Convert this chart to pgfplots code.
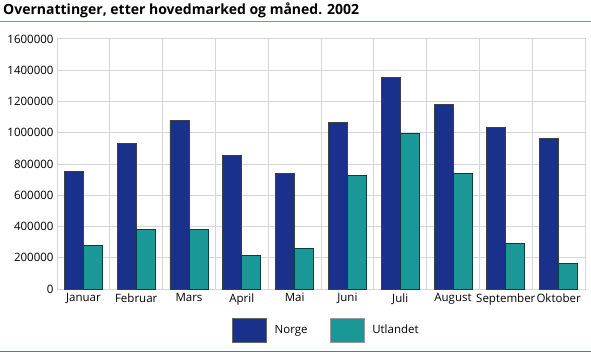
\documentclass[border=0pt]{standalone}
\usepackage{pgfplots}
\pgfplotsset{compat=1.18}
\usepackage{fontspec}
\setmainfont{Open Sans}
\definecolor{norge}{HTML}{1A318C}
\definecolor{utl}{HTML}{1A9898}
\definecolor{gridc}{HTML}{D6D6D6}
\definecolor{rulec}{HTML}{4DA6AE}
\begin{document}
\begin{tikzpicture}[x=1bp,y=1bp]
\useasboundingbox (0,0) rectangle (591,353);
\node[anchor=base west, font=\fontsize{14bp}{16bp}\selectfont\bfseries, inner sep=0pt] at (3,339) {Overnattinger, etter hovedmarked og måned. 2002};
\draw[rulec, line width=1.2bp] (0,331.5) -- (591,331.5);
\draw[utl, line width=1.5bp] (0,1.5) -- (591,1.5);
\begin{axis}[
  at={(57bp,64bp)}, anchor=south west,
  scale only axis, width=528bp, height=250bp,
  xmin=-0.5, xmax=9.5, ymin=0, ymax=1600000,
  ybar=0pt, bar width=0.36,
  xtick={0,...,9},
  xticklabels={Januar,Februar,Mars,April,Mai,Juni,Juli,August,September,Oktober},
  minor xtick={0.5,1.5,...,8.5},
  ytick={0,200000,...,1600000},
  ymajorgrids, xminorgrids,
  major grid style={draw=gridc, line width=1bp},
  minor grid style={draw=gridc, line width=1bp},
  axis line style={draw=gridc, line width=1bp},
  major tick length=0pt, minor tick length=0pt,
  scaled y ticks=false,
  yticklabel style={/pgf/number format/.cd, fixed, 1000 sep={}, assume math mode=true},
  ticklabel style={font=\fontsize{11.5bp}{13bp}\selectfont, text=black},
  xticklabel style={yshift=-1bp},
  axis on top=false,
  legend style={draw=none, fill=none, at={(0.331,-0.164)}, anchor=west, inner sep=0pt,
    legend columns=2, font=\fontsize{11.5bp}{13bp}\selectfont,
    /tikz/every even column/.append style={column sep=20bp}},
  legend cell align=left,
]
\addplot[fill=norge, draw=black!75, line width=0.7bp, bar shift=-0.18,
  legend image code/.code={\draw[fill=norge, draw=black!60, line width=0.7bp] (0bp,-12bp) rectangle (34bp,12bp); \path (40bp,0bp);}]
  coordinates {(0,752000) (1,932000) (2,1080000) (3,857000) (4,740000) (5,1068000) (6,1355000) (7,1182000) (8,1036000) (9,965000)};
\addlegendentry{Norge}
\addplot[fill=utl, draw=black!60!utl, line width=0.7bp, bar shift=0.18,
  legend image code/.code={\draw[fill=utl, draw=black!40, line width=0.7bp] (0bp,-12bp) rectangle (34bp,12bp); \path (40bp,0bp);}]
  coordinates {(0,280000) (1,383000) (2,380000) (3,217000) (4,262000) (5,729000) (6,998000) (7,742000) (8,294000) (9,166000)};
\addlegendentry{Utlandet}
\end{axis}
\end{tikzpicture}
\end{document}
